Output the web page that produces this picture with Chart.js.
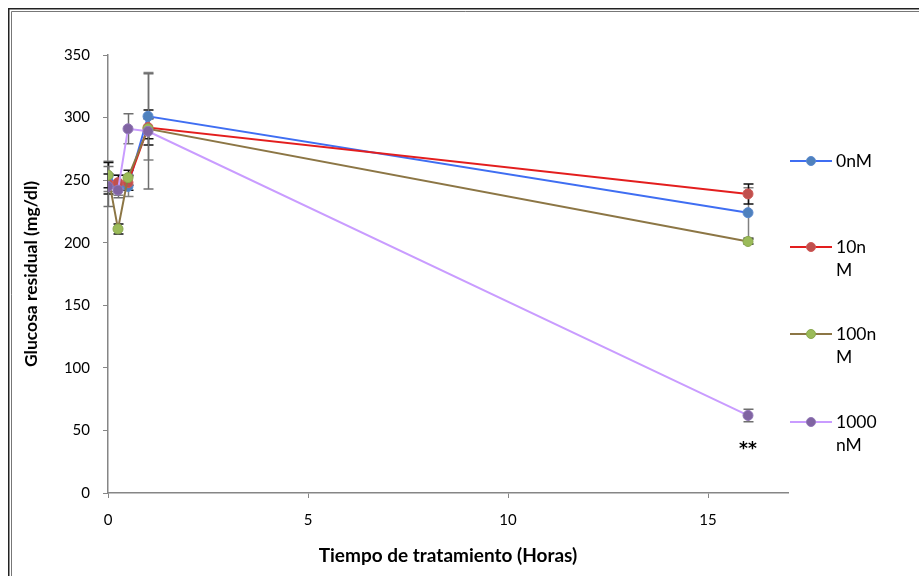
<!DOCTYPE html>
<html><head><meta charset="utf-8">
<script src="https://cdn.jsdelivr.net/npm/chart.js@4/dist/chart.umd.min.js"></script>
<style>html,body{margin:0;padding:0;background:#fff;} canvas{display:block;}</style>
</head><body>
<canvas id="c" width="919" height="576"></canvas>
<script>
// ---- data ----
const hours = [0, 0.25, 0.5, 1, 16];
const legendLabels = [['0nM'], ['10n', 'M'], ['100n', 'M'], ['1000', 'nM']];
const glucose0nM    = [253, 246, 245, 301, 224];
const glucose10nM   = [247, 248, 248, 292, 239];
const glucose100nM  = [254, 211, 252, 291, 201];
const glucose1000nM = [245, 242, 291, 289, 62];
const err0nM    = [12, 8, 8, 35, 20];
const err10nM   = [8, 6, 6, 14, 8];
const err100nM  = [10, 4, 6, 8, 2];
const err1000nM = [16, 6, 12, 46, 5];
const xTickValues = [0, 5, 10, 15];
const yTickValues = [0, 50, 100, 150, 200, 250, 300, 350];
const significanceMark = '**';
const xTitle = 'Tiempo de tratamiento (Horas)';
const yTitle = 'Glucosa residual (mg/dl)';

const seriesValues = [glucose0nM, glucose10nM, glucose100nM, glucose1000nM];
const seriesErrors = [err0nM, err10nM, err100nM, err1000nM];
const lineColors  = ['#3F6EF2', '#E31E1E', '#8C7645', '#C99CFF'];
const pointColors = ['#4F81BD', '#C0504D', '#9BBB59', '#8064A2'];
const pointBorders = ['#5A8AD0', '#D05A58', '#8AA84E', '#9378B8'];
const errColors   = ['#808080', '#111111', '#111111', '#6f6f6f'];

const FONT = 'Lato, "Open Sans", sans-serif';

const datasets = seriesValues.map((vals, i) => ({
  label: legendLabels[i].join(''),
  data: hours.map((h, j) => ({x: h, y: vals[j]})),
  borderColor: lineColors[i],
  backgroundColor: pointColors[i],
  pointBackgroundColor: pointColors[i],
  pointBorderColor: pointBorders[i],
  pointBorderWidth: 1,
  pointRadius: 5,
  borderWidth: 2,
  tension: 0,
  fill: false,
  order: 3 - i
}));

const framePlugin = {
  id: 'frame',
  beforeDraw(chart) {
    const ctx = chart.ctx;
    ctx.save();
    ctx.fillStyle = '#fff';
    ctx.fillRect(0, 0, chart.width, chart.height);
    ctx.strokeStyle = '#222';
    ctx.lineWidth = 1.5;
    ctx.beginPath();
    ctx.moveTo(8.75, chart.height + 2); ctx.lineTo(8.75, 8.75); ctx.lineTo(chart.width + 2, 8.75);
    ctx.stroke();
    ctx.strokeStyle = '#777';
    ctx.lineWidth = 1;
    ctx.beginPath();
    ctx.moveTo(11.5, chart.height + 2); ctx.lineTo(11.5, 11.5); ctx.lineTo(chart.width + 2, 11.5);
    ctx.stroke();
    ctx.restore();
  }
};

const errorBarPlugin = {
  id: 'errorBars',
  beforeDatasetsDraw(chart) {
    const {ctx, scales: {x, y}} = chart;
    ctx.save();
    ctx.lineWidth = 1.5;
    seriesValues.forEach((vals, i) => {
      ctx.strokeStyle = errColors[i];
      vals.forEach((v, j) => {
        const e = seriesErrors[i][j];
        const px = Math.round(x.getPixelForValue(hours[j])) + 0.5;
        const t = y.getPixelForValue(v + e);
        const b = y.getPixelForValue(v - e);
        ctx.beginPath();
        ctx.moveTo(px, t); ctx.lineTo(px, b);
        ctx.moveTo(px - 5, t); ctx.lineTo(px + 5, t);
        ctx.moveTo(px - 5, b); ctx.lineTo(px + 5, b);
        ctx.stroke();
      });
    });
    ctx.restore();
  },
  afterDatasetsDraw(chart) {
    const {ctx, scales: {x, y}} = chart;
    const last = hours.length - 1;
    const px = x.getPixelForValue(hours[last]);
    const py = y.getPixelForValue(glucose1000nM[last]);
    ctx.save();
    ctx.fillStyle = '#000';
    ctx.font = 'bold 17px "DejaVu Sans", sans-serif';
    ctx.textAlign = 'center';
    ctx.textBaseline = 'middle';
    ctx.fillText(significanceMark, px, py + 34);
    ctx.restore();
  }
};

const legendPlugin = {
  id: 'customLegend',
  afterDraw(chart) {
    const ctx = chart.ctx;
    const left = chart.chartArea.right + 2;
    const rowY = [161, 247, 334, 422];
    ctx.save();
    legendLabels.forEach((lines, i) => {
      const y = rowY[i];
      ctx.strokeStyle = lineColors[i];
      ctx.lineWidth = 2;
      ctx.beginPath(); ctx.moveTo(left, y); ctx.lineTo(left + 42, y); ctx.stroke();
      ctx.fillStyle = pointColors[i];
      ctx.strokeStyle = pointBorders[i];
      ctx.lineWidth = 1;
      ctx.beginPath(); ctx.arc(left + 21, y, 4.5, 0, Math.PI * 2); ctx.fill(); ctx.stroke();
      ctx.fillStyle = '#000';
      ctx.font = '17.5px ' + FONT;
      ctx.textAlign = 'left';
      ctx.textBaseline = 'middle';
      lines.forEach((t, k) => ctx.fillText(t, left + 46, y + k * 23));
    });
    ctx.restore();
  }
};

new Chart(document.getElementById('c'), {
  type: 'line',
  data: {datasets},
  options: {
    responsive: false,
    animation: false,
    devicePixelRatio: 1,
    layout: {padding: {left: 0, top: 55, right: 131, bottom: 0}},
    plugins: {legend: {display: false}, tooltip: {enabled: false}, title: {display: false}},
    scales: {
      x: {
        type: 'linear',
        min: 0, max: 17,
        afterBuildTicks: s => { s.ticks = xTickValues.map(v => ({value: v})); },
        afterFit: s => { s.height = 83; },
        grid: {display: true, drawOnChartArea: false, drawTicks: true, tickLength: 5, color: '#868686', lineWidth: 1},
        border: {display: true, color: '#868686', width: 1.5},
        ticks: {color: '#000', font: {family: FONT, size: 15}, padding: 13, maxRotation: 0},
        title: {display: true, text: xTitle, color: '#000', font: {family: FONT, size: 19, weight: 'bold'}, padding: {top: 0, bottom: 9}}
      },
      y: {
        type: 'linear',
        min: 0, max: 350,
        afterBuildTicks: s => { s.ticks = yTickValues.map(v => ({value: v})); },
        afterFit: s => { s.width = 108; },
        grid: {display: true, drawOnChartArea: false, drawTicks: true, tickLength: 5, color: '#868686', lineWidth: 1},
        border: {display: true, color: '#868686', width: 1.5},
        ticks: {color: '#000', font: {family: FONT, size: 15}, padding: 13},
        title: {display: true, text: yTitle, color: '#000', font: {family: FONT, size: 17.5, weight: 'bold'}, padding: {top: 21, bottom: 0}}
      }
    }
  },
  plugins: [framePlugin, errorBarPlugin, legendPlugin]
});
</script>
</body></html>
